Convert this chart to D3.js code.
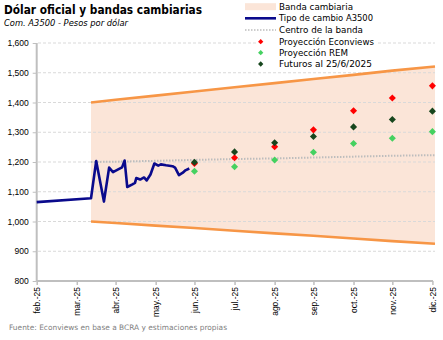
<!DOCTYPE html>
<html>
<head>
<meta charset="utf-8">
<script src="https://cdn.jsdelivr.net/npm/d3@7"></script>
<style>
  html, body { margin: 0; padding: 0; background: #fff; }
  svg { display: block; }
  text { font-family: "DejaVu Sans", Verdana, sans-serif; }
</style>
</head>
<body>
<svg id="chart" width="443" height="340"></svg>
<script>
// Tipo de cambio oficial (Com. A3500), pesos por dólar
const fxDates = ["2025-02-28","2025-04-11","2025-04-15","2025-04-21","2025-04-25","2025-04-28",
  "2025-05-02","2025-05-05","2025-05-07","2025-05-09","2025-05-13","2025-05-15","2025-05-16",
  "2025-05-19","2025-05-22","2025-05-24","2025-05-27","2025-05-30","2025-06-02","2025-06-04",
  "2025-06-08","2025-06-13","2025-06-15","2025-06-18","2025-06-21","2025-06-23","2025-06-26"];
const fxValues = [1065,1078,1203,1067,1181,1166,1175,1182,1205,1116,1125,1130,1146,
  1141,1148,1138,1158,1195,1188,1192,1189,1186,1181,1156,1164,1172,1178];

// Banda cambiaria: techo, piso y centro
const bandDates = ["2025-04-11","2025-04-30","2025-05-31","2025-06-30","2025-07-31","2025-08-31",
  "2025-09-30","2025-10-31","2025-11-30","2026-01-02"];
const bandUpper  = [1400,1409,1423,1437,1451,1465,1479,1493,1507,1521];
const bandLower  = [1000,995,986,978,969,960,952,943,934,925];
const bandCenter = [1200,1201,1204,1207,1210,1212,1215,1218,1221,1223];

// Proyecciones a fin de mes
const projDates  = ["2025-06-30","2025-07-31","2025-08-31","2025-09-30","2025-10-31","2025-11-30","2025-12-31"];
const econviews  = [1195,1214,1251,1308,1372,1415,1456];
const rem        = [1169,1184,1207,1233,1262,1280,1302];
const futuros    = [1199,1234,1265,1286,1318,1343,1371];

// Ejes
const tickDates  = ["2025-02-28","2025-03-31","2025-04-30","2025-05-31","2025-06-30","2025-07-31",
  "2025-08-31","2025-09-30","2025-10-31","2025-11-30","2025-12-31"];
const tickLabels = ["feb.-25","mar.-25","abr.-25","may.-25","jun.-25","jul.-25",
  "ago.-25","sep.-25","oct.-25","nov.-25","dic.-25"];
const yTicks = [800,900,1000,1100,1200,1300,1400,1500,1600];

const parse = d3.utcParse("%Y-%m-%d");
const svg = d3.select("#chart");

const x = d3.scaleUtc()
  .domain([parse("2025-02-28"), parse("2026-01-02")])
  .range([36.7, 435]);
const y = d3.scaleLinear().domain([800, 1600]).range([281, 43]);

const C = {
  fill: "#FBE5D8", band: "#F79646", fx: "#0A0A8C", center: "#BDBDBD",
  red: "#FF0000", light: "#45D160", dark: "#17461D", grid: "#D9D9D9", axis: "#BFBFBF"
};

const band = bandDates.map((d, i) => ({ d: parse(d), u: bandUpper[i], l: bandLower[i], c: bandCenter[i] }));
const fx = fxDates.map((d, i) => ({ d: parse(d), v: fxValues[i] }));

// Área de la banda
svg.append("path")
  .datum(band)
  .attr("fill", C.fill)
  .attr("d", d3.area().x(p => x(p.d)).y0(p => y(p.l)).y1(p => y(p.u)));

// Grilla horizontal
svg.append("g")
  .selectAll("line")
  .data(yTicks.filter(v => v > 800))
  .join("line")
  .attr("x1", 38).attr("x2", 435)
  .attr("y1", v => y(v)).attr("y2", v => y(v))
  .attr("stroke", C.grid).attr("stroke-width", 1)
  .attr("stroke-dasharray", "3,2");

// Techo y piso
["u", "l"].forEach(k => {
  svg.append("path")
    .datum(band)
    .attr("fill", "none")
    .attr("stroke", C.band)
    .attr("stroke-width", 2.6)
    .attr("d", d3.line().x(p => x(p.d)).y(p => y(p[k])));
});

// Centro de la banda
svg.append("path")
  .datum(band)
  .attr("fill", "none")
  .attr("stroke", C.center)
  .attr("stroke-width", 2)
  .attr("stroke-dasharray", "1.5,1.5")
  .attr("d", d3.line().x(p => x(p.d)).y(p => y(p.c)));

// Ejes
const yAxis = svg.append("g")
  .attr("transform", "translate(36.7,0)")
  .call(d3.axisLeft(y).tickValues(yTicks).tickFormat(d3.format(",")).tickSize(4).tickPadding(4));
yAxis.select(".domain").attr("stroke", C.axis).attr("stroke-width", 2).attr("d", `M0,${y(1600)}V${y(800)}`);
yAxis.selectAll(".tick line").attr("stroke", C.axis).attr("stroke-width", 1);
yAxis.selectAll(".tick text")
  .attr("fill", "#000")
  .style("font-family", "'Liberation Sans', Arial, sans-serif")
  .style("font-size", "8.5px");

const xTickDates = tickDates.map(parse);
const xAxis = svg.append("g")
  .attr("transform", `translate(0,${y(800)})`)
  .call(d3.axisBottom(x).tickValues(xTickDates)
    .tickFormat((d, i) => tickLabels[i]).tickSize(4));
xAxis.select(".domain").attr("stroke", C.axis).attr("stroke-width", 2)
  .attr("d", `M${x(xTickDates[0])},0H433`);
xAxis.selectAll(".tick line").attr("stroke", C.axis).attr("stroke-width", 1.5);
xAxis.selectAll(".tick text")
  .attr("fill", "#000")
  .attr("text-anchor", "end")
  .attr("dy", "0.35em")
  .attr("transform", "translate(0,6) rotate(-90)")
  .attr("x", 0).attr("y", 0)
  .style("font-family", "'Liberation Sans', Arial, sans-serif")
  .style("font-size", "8.5px");

// Tipo de cambio
svg.append("path")
  .datum(fx)
  .attr("fill", "none")
  .attr("stroke", C.fx)
  .attr("stroke-width", 2.6)
  .attr("stroke-linejoin", "round")
  .attr("d", d3.line().x(p => x(p.d)).y(p => y(p.v)));

// Marcadores de rombo
const diamond = (s) => d3.symbol().type(d3.symbolSquare).size(s)();
const series = [
  { vals: econviews, color: C.red },
  { vals: rem, color: C.light },
  { vals: futuros, color: C.dark }
];
series.forEach(s => {
  svg.append("g").selectAll("path")
    .data(projDates.map((d, i) => ({ d: parse(d), v: s.vals[i] })))
    .join("path")
    .attr("d", diamond(25))
    .attr("fill", s.color)
    .attr("transform", p => `translate(${x(p.d)},${y(p.v)}) rotate(45)`);
});

// Títulos
svg.append("text").attr("x", 4).attr("y", 14)
  .attr("font-weight", "bold").attr("font-size", 13).attr("fill", "#000")
  .attr("textLength", 198).attr("lengthAdjust", "spacingAndGlyphs")
  .text("Dólar oficial y bandas cambiarias");
svg.append("text").attr("x", 4).attr("y", 26)
  .attr("font-style", "italic").attr("font-size", 8.5).attr("fill", "#000")
  .attr("textLength", 124).attr("lengthAdjust", "spacingAndGlyphs")
  .text("Com. A3500 - Pesos por dólar");

// Leyenda
const lg = svg.append("g");
lg.append("rect").attr("x", 256).attr("y", 0).attr("width", 122).attr("height", 69).attr("fill", "#fff");
const legendItems = [
  { label: "Banda cambiaria", kind: "area", w: 74 },
  { label: "Tipo de cambio A3500", kind: "line", w: 94 },
  { label: "Centro de la banda", kind: "dot", w: 84 },
  { label: "Proyección Econviews", kind: "mk", color: C.red, w: 95 },
  { label: "Proyección REM", kind: "mk", color: C.light, w: 69 },
  { label: "Futuros al 25/6/2025", kind: "mk", color: C.dark, w: 93 }
];
const rowY = [6.7, 18.3, 30, 41.7, 52.7, 64];
legendItems.forEach((it, i) => {
  const cy = rowY[i];
  if (it.kind === "area") {
    lg.append("rect").attr("x", 245).attr("y", cy - 3.5).attr("width", 31).attr("height", 7).attr("fill", C.fill);
  } else if (it.kind === "line") {
    lg.append("line").attr("x1", 245).attr("x2", 276).attr("y1", cy).attr("y2", cy)
      .attr("stroke", C.fx).attr("stroke-width", 2.6);
  } else if (it.kind === "dot") {
    lg.append("line").attr("x1", 245).attr("x2", 276).attr("y1", cy).attr("y2", cy)
      .attr("stroke", C.center).attr("stroke-width", 1.5).attr("stroke-dasharray", "1.5,1.5");
  } else {
    lg.append("path").attr("d", diamond(14)).attr("fill", it.color)
      .attr("transform", `translate(260.7,${cy}) rotate(45)`);
  }
  lg.append("text").attr("x", 279).attr("y", cy).attr("dy", "0.35em")
    .attr("font-size", 9).attr("fill", "#000")
    .attr("textLength", it.w).attr("lengthAdjust", "spacingAndGlyphs")
    .text(it.label);
});

// Fuente
svg.append("text").attr("x", 9).attr("y", 330)
  .attr("font-size", 7.5).attr("fill", "#7F7F7F")
  .attr("textLength", 218).attr("lengthAdjust", "spacingAndGlyphs")
  .text("Fuente: Econviews en base a BCRA y estimaciones propias");
</script>
</body>
</html>
